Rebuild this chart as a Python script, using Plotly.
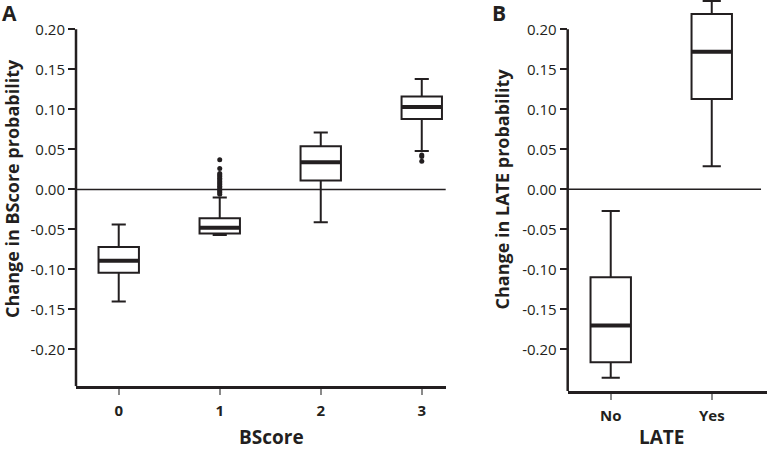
import plotly.graph_objects as go

# ---------------- data ----------------
bscore_cats = ["0", "1", "2", "3"]
bscore_pos = [0, 1, 2, 3]
bscore_lower = [-0.140, -0.057, -0.041, 0.048]
bscore_q1 = [-0.104, -0.055, 0.011, 0.088]
bscore_median = [-0.089, -0.048, 0.034, 0.103]
bscore_q3 = [-0.072, -0.036, 0.054, 0.116]
bscore_upper = [-0.044, -0.010, 0.071, 0.138]

outliers_b1 = [0.037, 0.026, 0.020, 0.018, 0.016, 0.014, 0.012, 0.010,
               0.008, 0.006, 0.004, 0.002, 0.000, -0.002, -0.004, -0.006]
outliers_b3 = [0.043, 0.041, 0.035]

late_cats = ["No", "Yes"]
late_pos = [0, 1]
late_lower = [-0.2355, 0.029]
late_q1 = [-0.216, 0.113]
late_median = [-0.170, 0.172]
late_q3 = [-0.110, 0.219]
late_upper = [-0.027, 0.2355]

ytick_vals = [0.20, 0.15, 0.10, 0.05, 0.00, -0.05, -0.10, -0.15, -0.20]
ytick_text = ["0.20", "0.15", "0.10", "0.05", "0.00", "-0.05", "-0.10", "-0.15", "-0.20"]

# ---------------- style ----------------
INK = "#231f20"
FONT = "Open Sans"
W, H = 767, 450

fig = go.Figure()

def add_boxes(xpos, lo, q1, med, q3, hi, xa, ya, ww):
    fig.add_trace(go.Box(
        x=xpos, q1=q1, median=med, q3=q3, lowerfence=lo, upperfence=hi,
        width=0.4, whiskerwidth=ww, boxpoints=False,
        line=dict(color=INK, width=2), fillcolor="white",
        xaxis=xa, yaxis=ya, showlegend=False, hoverinfo="skip"))
    # thick median bar
    fig.add_trace(go.Box(
        x=xpos, q1=med, median=med, q3=med, lowerfence=med, upperfence=med,
        width=0.4, whiskerwidth=0.0, boxpoints=False,
        line=dict(color=INK, width=4), fillcolor="rgba(0,0,0,0)",
        xaxis=xa, yaxis=ya, showlegend=False, hoverinfo="skip"))

add_boxes(bscore_pos, bscore_lower, bscore_q1, bscore_median, bscore_q3,
          bscore_upper, "x", "y", 0.35)
add_boxes(late_pos, late_lower, late_q1, late_median, late_q3,
          late_upper, "x2", "y2", 0.45)

fig.add_trace(go.Scatter(
    x=[bscore_pos[1]] * len(outliers_b1) + [bscore_pos[3]] * len(outliers_b3),
    y=outliers_b1 + outliers_b3, mode="markers",
    marker=dict(color=INK, size=5), xaxis="x", yaxis="y",
    showlegend=False, hoverinfo="skip"))

yaxis_common = dict(
    tickvals=ytick_vals, ticktext=ytick_text, ticks="outside", ticklen=7,
    tickwidth=1.5, tickcolor=INK, showline=False, showgrid=False,
    zeroline=False, tickfont=dict(family=FONT, size=15, color=INK),
)
xaxis_common = dict(
    showline=True, linecolor=INK, linewidth=2.5, ticks="outside", ticklen=6,
    tickwidth=1.5, tickcolor="#8a8a8a", showgrid=False, zeroline=False,
    ticklabelstandoff=3,
    tickfont=dict(family=FONT, size=15, color=INK, weight="bold"),
)

fig.update_layout(
    width=W, height=H, margin=dict(l=0, r=0, t=0, b=0),
    paper_bgcolor="white", plot_bgcolor="white",
    xaxis=dict(domain=[76 / W, 445.7 / W], range=[-0.423, 3.237], anchor="y",
               tickvals=bscore_pos, ticktext=bscore_cats, **xaxis_common),
    yaxis=dict(domain=[1 - 386.3 / H, 1], range=[-0.246, 0.2366], anchor="x",
               **yaxis_common),
    xaxis2=dict(domain=[567.7 / W, 1], range=[-0.426, 1.547], anchor="y2",
                tickvals=late_pos, ticktext=late_cats, **xaxis_common),
    yaxis2=dict(domain=[1 - 391 / H, 1], range=[-0.252, 0.2366], anchor="x2",
                **yaxis_common),
)

# y-axis lines (stop at 0.20) and zero lines
for xr, yr, bottom, zend in (("x", "y", -0.246, 1.0), ("x2", "y2", -0.252, 0.97)):
    fig.add_shape(type="line", xref=f"{xr} domain", yref=yr, x0=0, x1=0,
                  y0=bottom, y1=ytick_vals[0], line=dict(color=INK, width=2.5),
                  layer="above")
    fig.add_shape(type="line", xref=f"{xr} domain", yref=yr, x0=0, x1=zend,
                  y0=0, y1=0, line=dict(color=INK, width=1.5), layer="below")

ann_font_b = dict(family=FONT, size=18, color=INK, weight="bold")
annotations = [
    dict(text="Change in BScore probability", x=12 / W, y=1 - 189 / H,
         textangle=-90, font=ann_font_b),
    dict(text="Change in LATE probability", x=501.5 / W, y=1 - 189 / H,
         textangle=-90, font=ann_font_b),
    dict(text="BScore", x=271.5 / W, y=1 - 437 / H,
         font=dict(family=FONT, size=19, color=INK, weight="bold")),
    dict(text="LATE", x=662 / W, y=1 - 437 / H,
         font=dict(family=FONT, size=19, color=INK, weight="bold")),
    dict(text="A", x=9 / W, y=1 - 13 / H,
         font=dict(family=FONT, size=21, color=INK, weight="bold")),
    dict(text="B", x=499 / W, y=1 - 13 / H,
         font=dict(family=FONT, size=21, color=INK, weight="bold")),
]
for a in annotations:
    fig.add_annotation(xref="paper", yref="paper", showarrow=False,
                       xanchor="center", yanchor="middle", **a)

fig.write_html("out.html",
               config={"displayModeBar": False},
               post_script="document.body.style.margin='0';"
                           "document.body.style.overflow='hidden';")
